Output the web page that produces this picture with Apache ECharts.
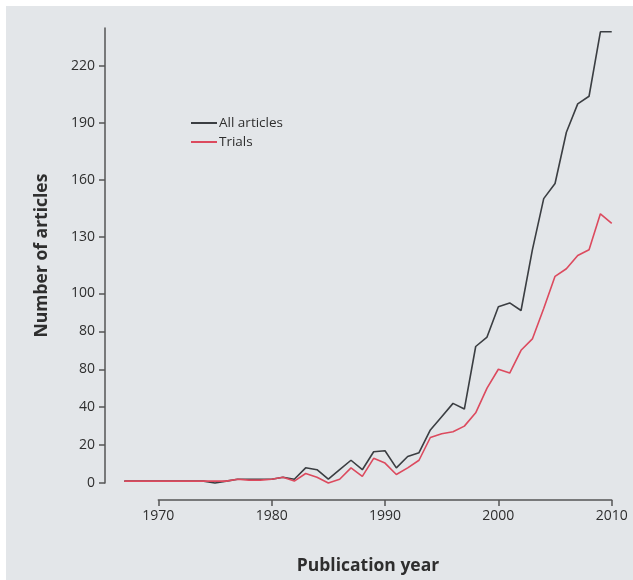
<!DOCTYPE html>
<html>
<head>
<meta charset="utf-8">
<script src="https://cdn.jsdelivr.net/npm/echarts@6/dist/echarts.min.js"></script>
<style>html,body{margin:0;padding:0;background:#fff;}#c{width:633px;height:580px;}</style>
</head>
<body>
<div id="c"></div>
<script>
const years = [1967,1968,1969,1970,1971,1972,1973,1974,1975,1976,1977,1978,1979,1980,1981,1982,1983,1984,1985,1986,1987,1988,1989,1990,1991,1992,1993,1994,1995,1996,1997,1998,1999,2000,2001,2002,2003,2004,2005,2006,2007,2008,2009,2010];
const allArticles = [1,1,1,1,1,1,1,1,0,1,2,2,2,2,3,2,8,7,2,7,12,7,16.5,17,8,14,16,28,35,42,39,72,77,93,95,91,123,150,158,185,200,204,238,238];
const trials = [1,1,1,1,1,1,1,1,1,1,2,1.5,1.5,2,3,1,5,3,0,2,8,3.5,13,10.5,4.5,8,12,24,26,27,30,37,50,60,58,70,76,92,109,113,120,123,142,137];
const yTickValues = [0,20,40,60,80,100,130,160,190,220];
const yTickLabels = ['0','20','40','80','80','100','130','160','190','220'];
const xTickYears = [1970,1980,1990,2000,2010];

const font = "'Open Sans', 'DejaVu Sans', sans-serif";
const axisColor = '#555';
const textColor = '#2e2e2e';
const chart = echarts.init(document.getElementById('c'), null, {renderer:'canvas'});
chart.setOption({
  animation: false,
  backgroundColor: '#fff',
  graphic: [{type:'rect', left:6, top:6, shape:{width:627, height:574}, style:{fill:'#e3e6e9'}, z:-10}],
  legend: {
    left: 186, top: 111, orient: 'vertical', itemGap: 5,
    icon: 'rect', itemWidth: 26, itemHeight: 2,
    textStyle: {fontFamily: font, fontSize: 13.5, color: textColor, padding:[0,0,0,-3]},
    data: ['All articles','Trials']
  },
  grid: [
    {left: 105, right: 2, top: 28, bottom: 96},
    {left: 158.3, right: 21.3, bottom: 80, height: 1}
  ],
  xAxis: [
    {gridIndex:0, type:'value', min:1965.3, max:2011.7, show:true,
     axisLine:{show:false}, axisTick:{show:false}, axisLabel:{show:false}, splitLine:{show:false},
     name:'Publication year', nameLocation:'middle', nameGap:74,
     nameTextStyle:{fontFamily:font, fontSize:17.5, fontWeight:'bold', color:textColor}},
    {gridIndex:1, type:'value', min:xTickYears[0], max:xTickYears[xTickYears.length-1], interval:10,
     axisLine:{show:true, lineStyle:{color:axisColor, width:1.5}},
     axisTick:{show:true, inside:false, length:6, lineStyle:{color:axisColor, width:1.5}},
     axisLabel:{fontFamily:font, fontSize:14, color:textColor, margin:9, showMinLabel:true, showMaxLabel:true,
       formatter: v => String(v)},
     splitLine:{show:false}}
  ],
  yAxis: [
    {gridIndex:0, type:'value', min:0, max:240,
     axisLine:{show:true, lineStyle:{color:axisColor, width:1.5}},
     axisTick:{show:true, inside:false, length:6, customValues: yTickValues, lineStyle:{color:axisColor, width:1.5}},
     axisLabel:{fontFamily:font, fontSize:14, color:textColor, margin:10, customValues: yTickValues,
       formatter: v => { const i = yTickValues.indexOf(v); return i >= 0 ? yTickLabels[i] : ''; }},
     splitLine:{show:false},
     name:'Number of articles', nameLocation:'middle', nameGap:54,
     nameTextStyle:{fontFamily:font, fontSize:17.5, fontWeight:'bold', color:textColor}},
    {gridIndex:1, type:'value', show:false}
  ],
  series: [
    {name:'All articles', type:'line', xAxisIndex:0, yAxisIndex:0, symbol:'none', clip:false,
     color:'#3b3e42', lineStyle:{width:1.6, color:'#3b3e42'},
     data: years.map((y,i)=>[y, allArticles[i]])},
    {name:'Trials', type:'line', xAxisIndex:0, yAxisIndex:0, symbol:'none', clip:false,
     color:'#dc4a5e', lineStyle:{width:1.6, color:'#dc4a5e'},
     data: years.map((y,i)=>[y, trials[i]])}
  ]
});
</script>
</body>
</html>
